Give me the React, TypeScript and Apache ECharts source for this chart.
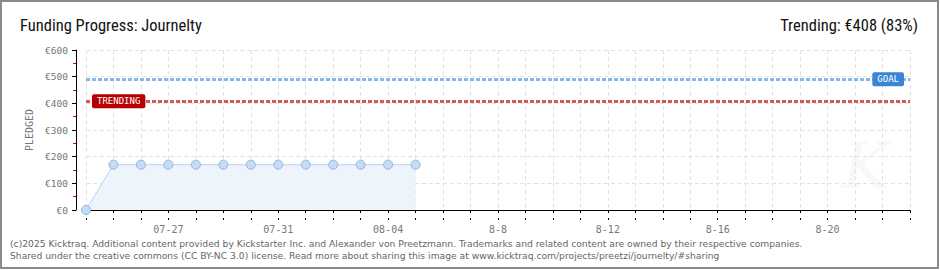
import React, { useEffect, useRef } from "react";
import * as echarts from "echarts";

const dayLabels = [
  "07-24", "07-25", "07-26", "07-27", "07-28", "07-29", "07-30", "07-31",
  "08-01", "08-02", "08-03", "08-04", "8-5", "8-6", "8-7", "8-8",
  "8-9", "8-10", "8-11", "8-12", "8-13", "8-14", "8-15", "8-16",
  "8-17", "8-18", "8-19", "8-20", "8-21", "8-22", "8-23",
];
const pledged = [0, 170, 170, 170, 170, 170, 170, 170, 170, 170, 170, 170, 170];
const goalValue = 490;
const trendingValue = 408;
const titleText = "Funding Progress: Journelty";
const trendText = "Trending: €408 (83%)";
const footerLines = [
  "(c)2025 Kicktraq. Additional content provided by Kickstarter Inc. and Alexander von Preetzmann. Trademarks and related content are owned by their respective companies.",
  "Shared under the creative commons (CC BY-NC 3.0) license. Read more about sharing this image at www.kicktraq.com/projects/preetzi/journelty/#sharing",
];

const NARROW = "'Liberation Sans Narrow', 'Roboto Condensed', 'DejaVu Sans Condensed', sans-serif";
const PIXEL = "'DejaVu Sans Mono', monospace";

export default function App() {
  const ref = useRef<HTMLDivElement>(null);
  useEffect(() => {
    if (!ref.current) return;
    const chart = echarts.init(ref.current, null, { renderer: "svg" });
    const lastCat = dayLabels[dayLabels.length - 1];
    chart.setOption({
      animation: false,
      backgroundColor: "#fff",
      title: [
        {
          text: titleText,
          left: 15,
          top: 12,
          textStyle: { fontFamily: NARROW, fontSize: 16.5, fontWeight: "normal", color: "#111" },
        },
        {
          text: trendText,
          right: 17,
          top: 12,
          textStyle: { fontFamily: NARROW, fontSize: 16.5, fontWeight: "normal", color: "#111" },
        },
      ],
      grid: { left: 86, right: 30, top: 50, bottom: 60, containLabel: false },
      xAxis: [
        {
          type: "category",
          data: dayLabels,
          boundaryGap: false,
          position: "bottom",
          offset: 10,
          axisLine: { show: true, lineStyle: { color: "#000", width: 1 } },
          axisTick: { show: true, interval: 0, length: 3, lineStyle: { color: "#000" } },
          axisLabel: {
            interval: (i: number) => i % 4 === 3,
            fontFamily: PIXEL,
            fontSize: 10,
            color: "#777",
            margin: 4,
          },
          splitLine: {
            show: true,
            interval: 0,
            lineStyle: { color: "#e2e2e2", type: [4, 3] },
          },
        },
        {
          type: "category",
          data: dayLabels,
          boundaryGap: false,
          position: "bottom",
          offset: 10,
          axisLine: { show: false },
          axisTick: { show: true, inside: true, interval: 0, length: 2, lineStyle: { color: "#000" } },
          axisLabel: { show: false },
          splitLine: { show: false },
        },
      ],
      yAxis: {
        type: "value",
        min: 0,
        max: 600,
        interval: 100,
        offset: 10,
        name: "PLEDGED",
        nameLocation: "middle",
        nameGap: 40,
        nameTextStyle: { fontFamily: PIXEL, fontSize: 10, color: "#777" },
        axisLine: { show: true, lineStyle: { color: "#000", width: 1 } },
        axisTick: { show: true, length: 4, lineStyle: { color: "#000" } },
        minorTick: { show: true, splitNumber: 2, length: 3, lineStyle: { color: "#e00000" } },
        axisLabel: {
          formatter: (v: number) => "€" + v,
          fontFamily: PIXEL,
          fontSize: 9.5,
          color: "#777",
          margin: 8,
        },
        splitLine: { show: true, lineStyle: { color: "#e2e2e2", type: [4, 3] } },
      },
      graphic: [
        {
          type: "rect",
          shape: { x: 1, y: 1, width: 937, height: 267 },
          style: { fill: "none", stroke: "#8a8a8a", lineWidth: 2 },
          silent: true,
          z: 100,
        },
        {
          type: "text",
          x: 842,
          y: 134,
          style: {
            text: "K",
            fontFamily: "'DejaVu Serif', serif",
            fontStyle: "italic",
            fontSize: 64,
            fill: "#f8f8f8",
          },
          silent: true,
          z: -1,
        },
        {
          type: "text",
          x: 10,
          y: 237,
          style: {
            text: footerLines.join("\n"),
            fontFamily: "'DejaVu Sans', sans-serif",
            fontSize: 9.2,
            lineHeight: 12.5,
            fill: "#666",
          },
          silent: true,
        },
      ],
      series: [
        {
          type: "line",
          data: pledged,
          xAxisIndex: 0,
          symbol: "circle",
          symbolSize: 9,
          lineStyle: { color: "#b7d4f2", width: 1 },
          itemStyle: { color: "#c4dcf5", borderColor: "#94b3d8", borderWidth: 1 },
          areaStyle: { color: "#edf4fc", opacity: 1 },
          z: 3,
          markLine: {
            silent: true,
            symbol: "none",
            label: { show: false },
            data: [
              { yAxis: goalValue, lineStyle: { color: "#86b8ea", width: 3, type: [4, 2] } },
              { yAxis: trendingValue, lineStyle: { color: "#d65a5a", width: 3, type: [4, 2] } },
            ],
          },
          markPoint: {
            silent: true,
            symbolSize: 0,
            data: [
              {
                coord: [dayLabels[0], trendingValue],
                label: {
                  show: true,
                  position: "right",
                  distance: 6,
                  formatter: "TRENDING",
                  color: "#fff",
                  fontFamily: PIXEL,
                  fontSize: 9,
                  backgroundColor: "#b80000",
                  padding: [3, 5, 2, 5],
                  borderRadius: 2,
                },
              },
              {
                coord: [lastCat, goalValue],
                label: {
                  show: true,
                  position: "left",
                  distance: 6,
                  formatter: "GOAL",
                  color: "#fff",
                  fontFamily: PIXEL,
                  fontSize: 9,
                  backgroundColor: "#3a86d6",
                  padding: [3, 5, 2, 5],
                  borderRadius: 2,
                },
              },
            ],
          },
        },
      ],
    });
    return () => chart.dispose();
  }, []);
  return (
    <div
      ref={ref}
      style={{ position: "absolute", left: 0, top: 0, width: 940, height: 270, background: "#fff" }}
    />
  );
}
